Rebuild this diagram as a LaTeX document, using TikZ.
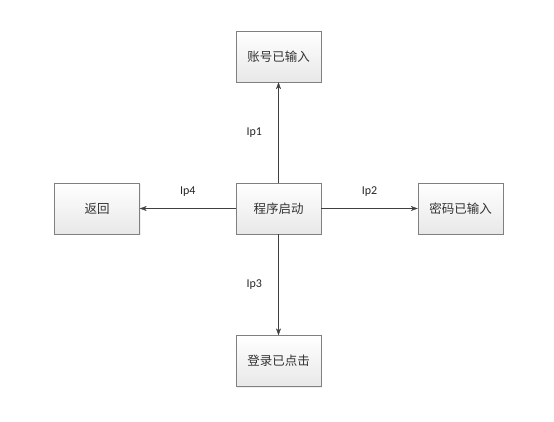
\documentclass[tikz,border=0pt]{standalone}
\usepackage{fontspec}
\setsansfont{Carlito}
\newfontfamily\cjk{Noto Sans CJK SC}
\usepackage{tikz}
\usetikzlibrary{arrows.meta, positioning, shadows}
\definecolor{boxline}{RGB}{128, 128, 128}
\definecolor{boxfill}{RGB}{232, 232, 232}
\definecolor{arrline}{RGB}{64, 64, 64}

\begin{document}
\begin{tikzpicture}[x=1pt, y=-1pt,
    state/.style={draw=boxline, top color=white, bottom color=boxfill,
      minimum width=85pt, minimum height=51pt, inner sep=0pt,
      font=\cjk\fontsize{12.5}{14}\selectfont, text=black!80,
      drop shadow={opacity=0.12, shadow xshift=1.2pt, shadow yshift=-1.2pt}},
    trans/.style={draw=arrline, -{Stealth[length=7pt, width=5pt]}},
    lbl/.style={font=\sffamily\fontsize{12}{14}\selectfont, text=black!85}]
  \useasboundingbox (0, 0) rectangle (554, 421);
  \node[state] (start) at (278.5, 208.5) {程序启动};
  \node[state] (account) at (278.5, 56.5) {账号已输入};
  \node[state] (password) at (460.5, 208.5) {密码已输入};
  \node[state] (login) at (278.5, 361) {登录已点击};
  \node[state] (back) at (97, 208.5) {返回};
  \draw[trans] (start) -- (account) node[midway, left=13pt, lbl] {Ip1};
  \draw[trans] (start) -- (password) node[midway, above=9pt, lbl] {Ip2};
  \draw[trans] (start) -- (login) node[midway, left=13pt, lbl] {Ip3};
  \draw[trans] (start) -- (back) node[midway, above=9pt, lbl] {Ip4};
\end{tikzpicture}
\end{document}
